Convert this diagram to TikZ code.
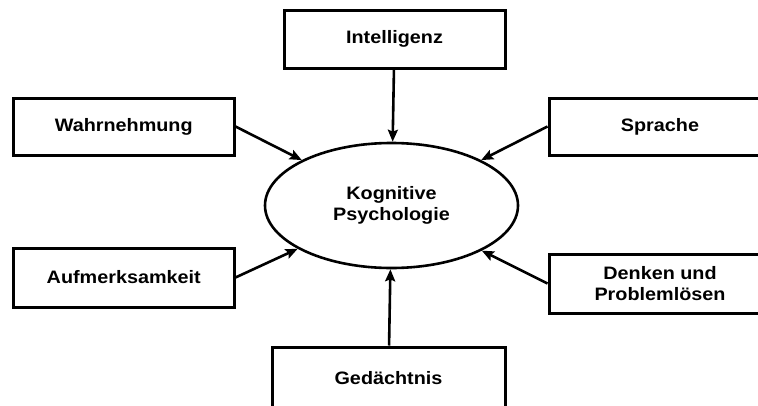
\documentclass[tikz,border=0pt]{standalone}
\usepackage{fontspec}
\setmainfont{Liberation Sans}
\newfontfamily\labelfont[FakeStretch=1.1]{Liberation Sans Bold}
\usetikzlibrary{shapes.geometric,arrows.meta}
\tikzset{
  box/.style={draw, line width=3pt, rectangle, inner sep=0pt, align=center,
    font=\labelfont\fontsize{18}{20.5}\selectfont},
  oval/.style={draw, line width=2.6pt, ellipse, inner sep=0pt, align=center,
    minimum width=253pt, minimum height=125pt,
    font=\labelfont\fontsize{18}{20.5}\selectfont},
  arr/.style={line width=2.6pt, -{Stealth[length=12pt,width=10pt,inset=2pt]}}
}
\begin{document}
\begin{tikzpicture}[x=1pt,y=-1pt]
\useasboundingbox (0,0) rectangle (758,405);
\clip (0,0) rectangle (758,405);
\node[oval] (ell) at (391.5,205.5) {Kognitive\\Psychologie};
\node[box, minimum width=221pt, minimum height=58pt] (intel) at (394.5,39) {Intelligenz};
\node[box, minimum width=220.5pt, minimum height=57pt] (wahr) at (123.75,126.5) {Wahrnehmung};
\node[box, minimum width=222pt, minimum height=57pt] (spr) at (660,126.5) {Sprache};
\node[box, minimum width=220.5pt, minimum height=59pt] (aufm) at (123.75,277.5) {Aufmerksamkeit};
\node[box, minimum width=222pt, minimum height=59pt] (denk) at (660,283.5) {Denken und\\Problemlösen};
\node[box, minimum width=233pt, minimum height=62pt] (gedae) at (388.5,378) {Gedächtnis};
\draw[arr] (intel) -- (ell);
\draw[arr] (wahr.east) -- (ell);
\draw[arr] (spr.west) -- (ell);
\draw[arr] (aufm.east) -- (ell);
\draw[arr] (denk.west) -- (ell);
\draw[arr] (gedae) -- (ell);
\end{tikzpicture}
\end{document}
